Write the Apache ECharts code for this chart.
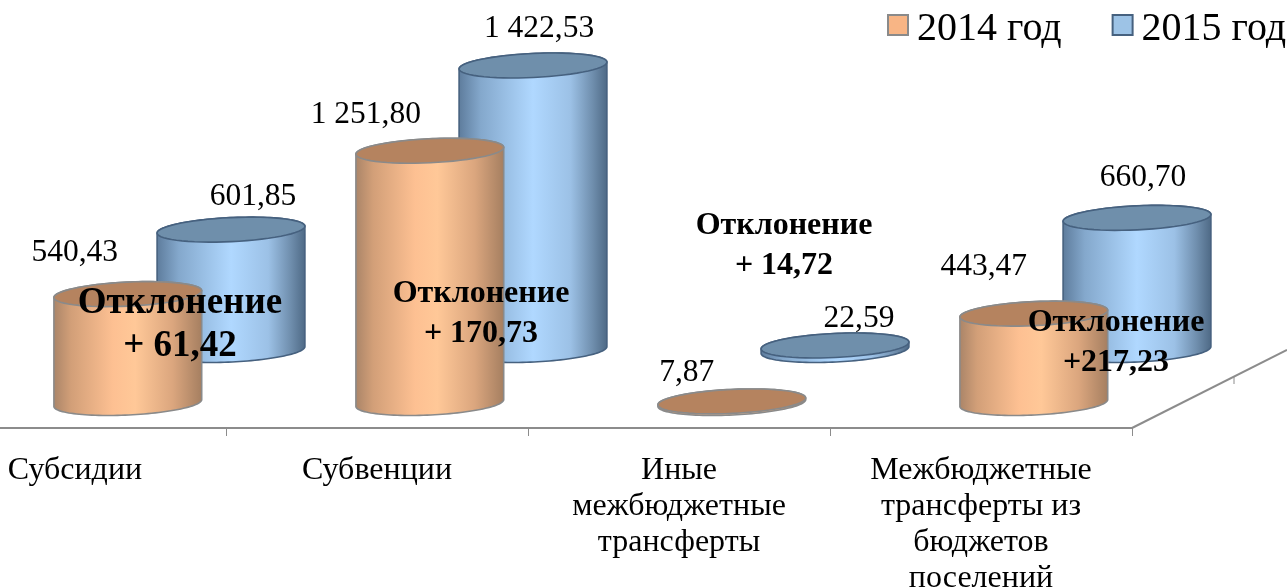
<!DOCTYPE html>
<html><head><meta charset="utf-8">
<style>html,body{margin:0;padding:0;background:#fff}#c{width:1287px;height:588px}</style>
<script src="https://cdn.jsdelivr.net/npm/echarts@6/dist/echarts.min.js"></script>
</head><body><div id="c"></div>
<script>
const categories = ['Субсидии','Субвенции','Иные\nмежбюджетные\nтрансферты','Межбюджетные\nтрансферты из\nбюджетов\nпоселений'];
const values2014 = [540.43,1251.80,7.87,443.47];
const values2015 = [601.85,1422.53,22.59,660.70];
const deviationLabels = ['Отклонение\n+ 61,42','Отклонение\n+ 170,73','Отклонение\n+ 14,72','Отклонение\n+217,23'];

// layout only (pixel nudges of labels from the cylinder's top centre)
const nudge2014 = [[-53,-41],[-64,-36],[-45,-29],[-50,-47]];
const nudge2015 = [[22,-33],[6,-37],[24,-27],[6,-40]];
const SERIF = '"Liberation Serif","Times New Roman",serif';
const TILT = -2.7*Math.PI/180, SEMI_B = 12;

function fmt(v){
  const p = v.toFixed(2).split('.');
  return p[0].replace(/\B(?=(\d{3})+$)/g,' ')+','+p[1];
}
function ell(cx,cy,a,b,t){
  return [cx+a*Math.cos(t)*Math.cos(TILT)-b*Math.sin(t)*Math.sin(TILT),
          cy+a*Math.cos(t)*Math.sin(TILT)+b*Math.sin(t)*Math.cos(TILT)];
}
function arc(cx,cy,a,b,from,to){
  const pts=[]; const n=60;
  for(let i=0;i<=n;i++) pts.push(ell(cx,cy,a,b,from+(to-from)*i/n));
  return pts;
}
function cylinder(pal,nudge){
  return function(params,api){
    const i=api.value(0), v=api.value(1);
    const base=api.coord([i,0]), top=api.coord([i,v]);
    const a=api.size([1,0])[0]*0.245;
    // tangent points of a tilted ellipse sit slightly off the axis ends
    const t0=Math.atan2(SEMI_B*Math.tan(TILT),a);
    const body=arc(base[0],base[1],a,SEMI_B,t0,t0+Math.PI).concat(arc(top[0],top[1],a,SEMI_B,t0+Math.PI,t0+2*Math.PI));
    const cap=arc(top[0],top[1],a,SEMI_B,0,2*Math.PI);
    const n=nudge[i];
    return {type:'group',children:[
      {type:'polygon',shape:{points:body},style:{
        fill:{type:'linear',x:0,y:0,x2:1,y2:0,colorStops:pal.stops},
        stroke:pal.edge,lineWidth:1.6}},
      {type:'polygon',shape:{points:cap},style:{fill:pal.cap,stroke:pal.edge,lineWidth:1.6}},
      {type:'text',x:top[0]+n[0],y:top[1]+n[1],z2:10,style:{text:fmt(v),fill:'#000',
        font:'31.5px '+SERIF,textAlign:'center',textVerticalAlign:'middle'}}
    ]};
  };
}
const pal14={edge:'#8a8a8a',cap:'#b5835f',stops:[
  {offset:0,color:'#a98468'},{offset:.12,color:'#d29f78'},{offset:.4,color:'#fdc092'},{offset:.55,color:'#ffc898'},{offset:.8,color:'#dba67e'},{offset:1,color:'#a47e60'}]};
const pal15={edge:'#46617f',cap:'#6f8fab',stops:[
  {offset:0,color:'#5d7b9b'},{offset:.15,color:'#84a8cc'},{offset:.5,color:'#b0d8ff'},{offset:.75,color:'#9cc1e6'},{offset:.9,color:'#6f8ead'},{offset:1,color:'#4d6884'}]};

const devPos=[[180,325,37,43],[481,314,32,40],[784,246,32,40],[1116,343,32,40]];

const chart=echarts.init(document.getElementById('c'),null,{renderer:'canvas'});
const hiddenAxis=g=>({type:'category',gridIndex:g,data:categories,show:false});
chart.setOption({
  animation:false,
  backgroundColor:'#fff',
  legend:{
    left:887,top:9,width:600,padding:0,itemWidth:20,itemHeight:20,itemGap:50,icon:'rect',
    data:['2014 год','2015 год'],
    formatter:'{t|{name}}',
    textStyle:{fontFamily:SERIF,fontSize:40,color:'#000',
      rich:{t:{fontFamily:SERIF,fontSize:40,color:'#000',padding:[8,0,0,4]}}}
  },
  grid:[
    {left:-76,width:1208,top:0,height:428,outerBoundsMode:'none'},
    {left:-23.2,width:1208,top:0,height:403,outerBoundsMode:'none'},
    {left:80,width:1208,top:0,height:350,outerBoundsMode:'none'}
  ],
  xAxis:[
    {type:'category',gridIndex:0,data:categories,
     axisLine:{lineStyle:{color:'#8c8c8c',width:2}},
     axisTick:{show:true,length:8,lineStyle:{color:'#8c8c8c',width:1}},
     axisLabel:{interval:0,margin:25,fontFamily:SERIF,fontSize:32,color:'#000',lineHeight:36}},
    hiddenAxis(1),hiddenAxis(2)
  ],
  yAxis:[
    {type:'value',gridIndex:0,show:false,min:0,max:2000},
    {type:'value',gridIndex:1,show:false,min:0,max:2000},
    {type:'value',gridIndex:2,show:false,min:0,max:1750}
  ],
  series:[
    {name:'2014 год',type:'custom',xAxisIndex:1,yAxisIndex:1,z:3,
     data:values2014.map((v,i)=>[i,v]),encode:{x:0,y:1},
     itemStyle:{color:'#f8b585',borderColor:'#8a8a8a',borderWidth:1.5},
     renderItem:cylinder(pal14,nudge2014)},
    {name:'2015 год',type:'custom',xAxisIndex:2,yAxisIndex:2,z:2,
     data:values2015.map((v,i)=>[i,v]),encode:{x:0,y:1},
     itemStyle:{color:'#9dc3e6',borderColor:'#46617f',borderWidth:1.5},
     renderItem:cylinder(pal15,nudge2015)}
  ],
  graphic:[
    {type:'line',z:1,shape:{x1:1132,y1:428,x2:1287,y2:350},style:{stroke:'#8c8c8c',lineWidth:2}},
    {type:'line',z:1,shape:{x1:1234,y1:376,x2:1234,y2:384},style:{stroke:'#8c8c8c',lineWidth:1}}
  ].concat(deviationLabels.map((t,i)=>({
    type:'text',z:100,x:devPos[i][0],y:devPos[i][1],
    style:{text:t,fill:'#000',font:'bold '+devPos[i][2]+'px '+SERIF,lineHeight:devPos[i][3],
      textAlign:'center',textVerticalAlign:'middle'}
  })))
});
</script></body></html>
